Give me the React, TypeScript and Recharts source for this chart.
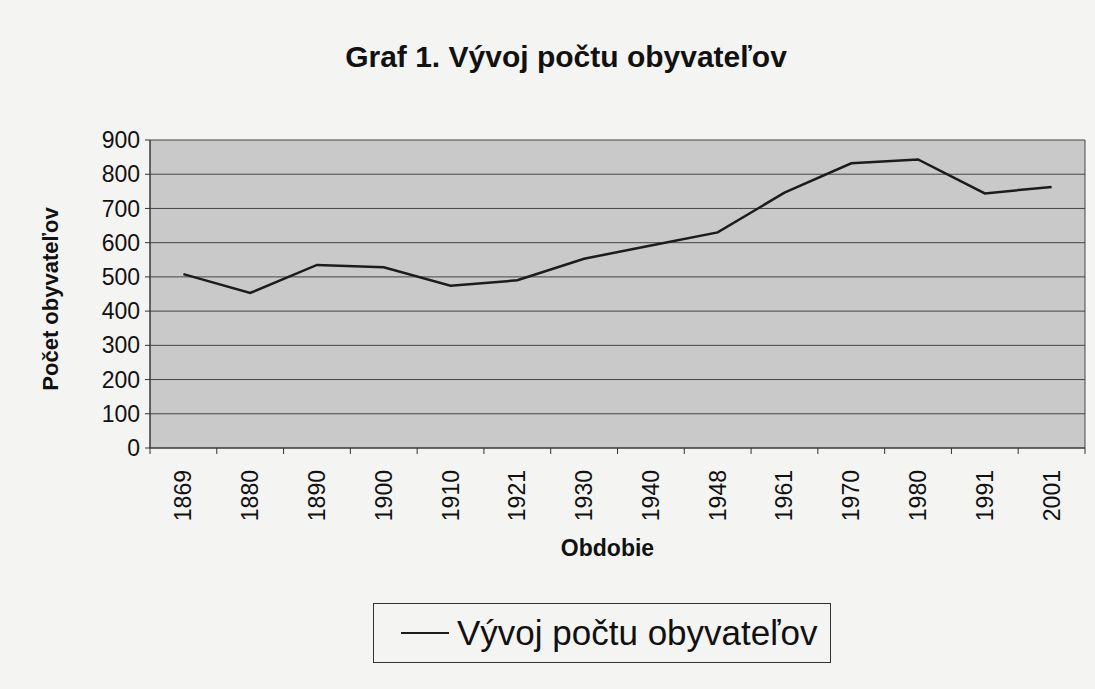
import React from 'react';
import { CartesianGrid, Line, LineChart, XAxis, YAxis } from 'recharts';

const years = ['1869', '1880', '1890', '1900', '1910', '1921', '1930', '1940', '1948', '1961', '1970', '1980', '1991', '2001'];
const population = [508, 453, 535, 528, 474, 490, 553, 592, 630, 746, 832, 843, 744, 763];
const yTicks = [0, 100, 200, 300, 400, 500, 600, 700, 800, 900];

const data = years.map((year, i) => ({ year, value: population[i] }));

const W = 1095;
const H = 689;
const PLOT_LEFT = 150;
const PLOT_RIGHT = 1085;
const PLOT_TOP = 140;
const PLOT_BOTTOM = 448;
const STEP = (PLOT_RIGHT - PLOT_LEFT) / years.length;
const FONT = 'Arial, "Liberation Sans", sans-serif';

function YearTick(props: any) {
  const { x, y, payload, index } = props;
  return (
    <g>
      <line x1={x - STEP / 2} y1={y - 8} x2={x - STEP / 2} y2={y - 2} stroke="#333" strokeWidth={1} />
      {index === years.length - 1 && (
        <line x1={x + STEP / 2} y1={y - 8} x2={x + STEP / 2} y2={y - 2} stroke="#333" strokeWidth={1} />
      )}
      <text
        x={x + 8}
        y={y + 14}
        transform={`rotate(-90, ${x + 8}, ${y + 14})`}
        textAnchor="end"
        fontSize={23}
        fontFamily={FONT}
        fill="#111"
      >
        {payload.value}
      </text>
    </g>
  );
}

export default function App() {
  return (
    <div style={{ position: 'absolute', left: 0, top: 0, width: W, height: H, background: '#f4f4f2', fontFamily: FONT }}>
      <div
        style={{
          position: 'absolute',
          top: 40,
          left: 0,
          width: 1132,
          textAlign: 'center',
          fontSize: 30,
          fontWeight: 'bold',
          color: '#111',
        }}
      >
        Graf 1. Vývoj počtu obyvateľov
      </div>
      <LineChart
        width={W}
        height={H}
        data={data}
        margin={{ top: PLOT_TOP, right: W - PLOT_RIGHT, left: 0, bottom: H - PLOT_BOTTOM - 100 }}
      >
        <CartesianGrid
          fill="#c9c9c9"
          stroke="#444"
          strokeWidth={1}
          vertical
          verticalCoordinatesGenerator={({ offset }: any) => [offset.left, offset.left + offset.width]}
        />
        <XAxis
          dataKey="year"
          height={100}
          padding={{ left: STEP / 2, right: STEP / 2 }}
          interval={0}
          tickLine={false}
          axisLine={{ stroke: '#333' }}
          tick={<YearTick />}
          label={{ value: 'Obdobie', position: 'insideBottom', offset: -8, dx: -10, fontSize: 23, fontWeight: 'bold', fill: '#111', fontFamily: FONT }}
        />
        <YAxis
          width={PLOT_LEFT}
          domain={[0, 900]}
          ticks={yTicks}
          interval={0}
          tickSize={5}
          tickMargin={5}
          axisLine={{ stroke: '#333' }}
          tickLine={{ stroke: '#333' }}
          tick={{ fontSize: 23, fill: '#111', fontFamily: FONT }}
          label={{
            value: 'Počet obyvateľov',
            angle: -90,
            position: 'insideLeft',
            offset: 50,
            dy: 5,
            fontSize: 22,
            fontWeight: 'bold',
            fill: '#111',
            fontFamily: FONT,
            style: { textAnchor: 'middle' },
          }}
        />
        <Line
          type="linear"
          dataKey="value"
          name="Vývoj počtu obyvateľov"
          stroke="#1c1c1c"
          strokeWidth={2.5}
          dot={false}
          isAnimationActive={false}
        />
      </LineChart>
      <div
        style={{
          position: 'absolute',
          left: 373,
          top: 603,
          width: 458,
          height: 60,
          border: '1.5px solid #333',
          boxSizing: 'border-box',
          display: 'flex',
          alignItems: 'center',
          fontSize: 35,
          color: '#111',
        }}
      >
        <span style={{ display: 'inline-block', width: 48, height: 0, borderTop: '2.5px solid #1c1c1c', marginLeft: 27, marginRight: 8 }} />
        Vývoj počtu obyvateľov
      </div>
    </div>
  );
}
